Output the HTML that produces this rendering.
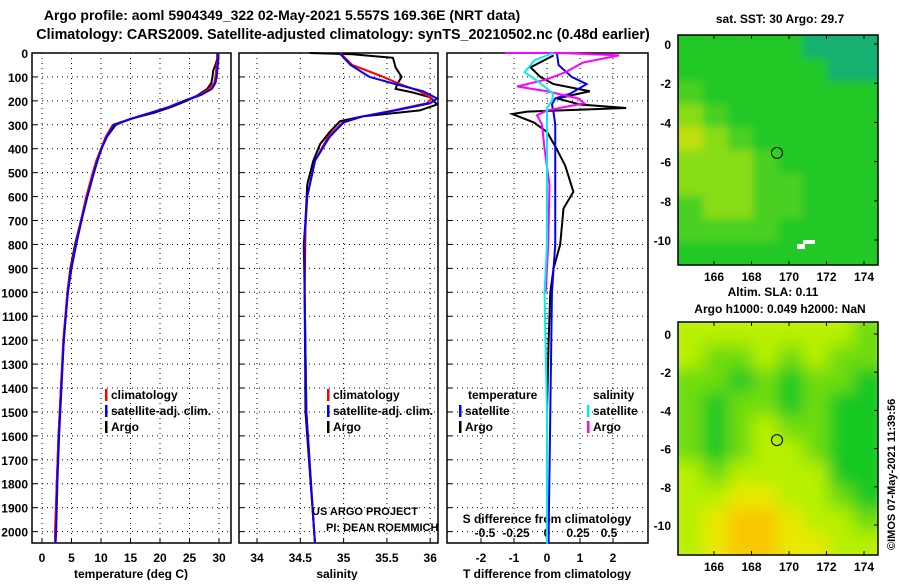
<!DOCTYPE html>
<html><head><meta charset="utf-8"><style>
body{margin:0;background:#fff}
svg text{font-family:"Liberation Sans",sans-serif;font-weight:bold;fill:#000}
</style></head><body>
<svg id="c" width="900" height="580" viewBox="0 0 900 580" xmlns="http://www.w3.org/2000/svg">
<defs>
<filter id="bl" x="0" y="0" width="1" height="1"><feGaussianBlur stdDeviation="8"/></filter>
<filter id="bl2" x="0" y="0" width="1" height="1"><feGaussianBlur stdDeviation="4"/></filter>
<clipPath id="cm1"><rect x="678" y="35" width="200" height="230"/></clipPath>
<clipPath id="cm2"><rect x="678" y="322" width="200" height="233"/></clipPath>
</defs>
<text x="282" y="20" font-size="14" text-anchor="middle">Argo profile: aoml 5904349_322 02-May-2021 5.557S 169.36E (NRT data)</text>
<text x="343" y="39" font-size="14.3" text-anchor="middle">Climatology: CARS2009. Satellite-adjusted climatology: synTS_20210502.nc (0.48d earlier)</text>
<g id="g"></g>
</svg>
<script>
// ---- data ----
const depths = [0,25,50,75,100,125,150,175,200,225,250,275,300,350,400,450,500,600,700,800,900,1000,1200,1400,1600,1800,2000,2050];
const tempArgo = [29.7,29.7,29.4,29.0,28.9,28.7,28.0,26.5,24.5,22.0,19.0,15.0,12.5,11.0,10.0,9.4,8.8,7.6,6.6,5.6,4.8,4.3,3.7,3.2,2.8,2.5,2.3,2.2];
const tempClim = [29.8,29.8,29.6,29.5,29.4,29.2,28.3,26.8,24.0,21.5,18.3,15.0,12.0,10.8,10.0,9.2,8.6,7.5,6.6,5.7,4.9,4.3,3.6,3.2,2.8,2.5,2.2,2.2];
const tempSat = [29.9,29.9,29.8,29.7,29.6,29.4,28.8,27.0,24.2,21.8,18.5,15.2,12.2,11.0,10.1,9.4,8.8,7.7,6.7,5.8,5.0,4.4,3.7,3.3,2.9,2.6,2.4,2.3];
const salDepthsArgo = [0,5,20,60,100,130,150,165,185,215,240,265,285,330,380,450,550,700,1000,1500,2000,2050];
const salArgo = [34.61,35.1,35.57,35.6,35.67,35.62,35.6,35.8,36.0,36.08,35.88,35.22,34.96,34.84,34.73,34.65,34.58,34.56,34.55,34.56,34.66,34.67];
const salDepthsClim = [0,50,100,130,160,190,210,240,265,290,350,450,600,800,1000,1500,2000,2050];
const salClim = [34.96,35.1,35.46,35.65,35.88,36.02,35.96,35.57,35.22,34.99,34.82,34.67,34.58,34.55,34.55,34.57,34.66,34.67];
const salSat = [34.95,35.08,35.3,35.6,35.92,36.08,36.0,35.6,35.22,35.0,34.84,34.67,34.58,34.54,34.55,34.57,34.66,34.67];
const dtArgoDepths = [10,60,100,130,160,190,215,230,245,255,290,330,390,470,580,650,800,900,1000,1200,1500,2000,2050];
const dtArgo = [0.2,-0.5,-0.2,0.2,1.3,0.3,1.0,2.4,-0.6,-1.05,-0.4,0,0.25,0.55,0.8,0.5,0.4,0.2,0.1,0.05,0,0,0];
const dtSatDepths = [0,50,100,130,170,190,215,250,300,500,800,1000,1500,2000,2050];
const dtSat = [0.3,0.35,0.75,1.2,0.7,0.25,0.15,0.2,0.25,0.25,0.25,0.15,0.1,0.05,0.05];
const dsArgoDepths = [0,0,10,40,80,110,140,160,190,210,240,260,300,400,550,800,1000];
const dsArgo = [-0.34,0.12,0.58,0.29,0.15,0,-0.24,0,0.25,0.3,0,-0.08,-0.04,-0.02,0.02,0.01,-0.01];
const dsSatDepths = [0,30,80,120,170,200,230,300,500,800,1000,1500,2000,2050];
const dsSat = [0.05,-0.1,-0.18,-0.07,0.05,0.04,0,0,0,0,-0.02,0,0,0];
const depthTicks = [0,100,200,300,400,500,600,700,800,900,1000,1100,1200,1300,1400,1500,1600,1700,1800,1900,2000];
const tTicks = [0,5,10,15,20,25,30];
const sTicks = [34,34.5,35,35.5,36];
const sTickLabels = ['34','34.5','35','35.5','36'];
const dTTicks = [-2,-1,0,1,2];
const dSTicks = [-0.5,-0.25,0,0.25,0.5];
const dSTickLabels = ['-0.5','-0.25','0','0.25','0.5'];
const lonTicks = [166,168,170,172,174];
const latTicks = [0,-2,-4,-6,-8,-10];
const sstGrid = [
[1,1,1,1,1,0,0,0],[1,1,1,1,1,1,0,0],[2,1,1,1,1,1,1,1],[3,2,1,1,1,1,1,1],[4,3,2,1,1,1,1,1],
[3,3,3,2,1,1,1,1],[3,3,3,2,2,1,1,1],[2,3,3,2,2,1,1,1],[2,2,2,2,1,1,1,1],[1,1,1,1,1,1,1,1]];
const slaGrid = [
[2,2,2,2,2,2,2,1],[2,1,1,2,1,2,1,1],[1,1,0,1,0,1,1,0],[1,0,1,1,0,1,0,0],[1,0,1,2,1,1,0,0],
[1,0,1,2,2,1,0,0],[2,1,2,2,2,2,0,0],[2,2,3,3,2,2,1,0],[2,3,4,4,3,2,2,1],[2,3,4,4,3,3,2,2]];
const sstColors = ['#18b070','#22c828','#48d020','#88dc18','#c0e010'];
const slaColors = ['#18c820','#70dc10','#b8f000','#e8e800','#f8c800'];

// ---- scales ----
const NS='http://www.w3.org/2000/svg';
const G=document.getElementById('g');
const yD=d=>53+d*0.2393;
const xT=t=>42+t*5.9;
const xS=s=>257+(s-34)*86.6;
const xDT=v=>547+v*33;
const xDS=v=>547+v*124;
const mx1=l=>714+(l-166)*18.75, my1=l=>44-l*19.6;
const my2=l=>334-l*19.1;
function el(t,a,p){const e=document.createElementNS(NS,t);for(const k in a)e.setAttribute(k,a[k]);(p||G).appendChild(e);return e;}
function txt(x,y,s,a){const e=el('text',Object.assign({x:x,y:y,'font-size':12},a||{}));e.textContent=s;return e;}

function panel(x0,x1,name){
  const r=el('rect',{x:x0,y:53,width:x1-x0,height:490,fill:'none',stroke:'#000','stroke-width':1.5});
  
  
  depthTicks.forEach(d=>{ if(d>0) el('line',{x1:x0,x2:x1,y1:yD(d),y2:yD(d),stroke:'#000','stroke-dasharray':'1 4'});
    el('line',{x1:x0,x2:x0+5,y1:yD(d),y2:yD(d),stroke:'#000'});});
}
function vgrid(xs,f){xs.forEach(v=>{el('line',{x1:f(v),x2:f(v),y1:53,y2:543,stroke:'#000','stroke-dasharray':'1 4'});el('line',{x1:f(v),x2:f(v),y1:538,y2:543,stroke:'#000'});});}
function line(ds,vs,fx,col,name,w){
  const p=el('polyline',{points:ds.map((d,i)=>fx(vs[i])+','+yD(d)).join(' '),fill:'none',stroke:col,'stroke-width':w||2});
  
  
}

panel(32,231,'temperature-panel'); panel(239,438,'salinity-panel'); panel(447,648,'difference-panel');
depthTicks.forEach(d=>{const t=txt(28,yD(d)+5,String(d),{'text-anchor':'end'});});
vgrid(tTicks,xT); vgrid(sTicks,xS); vgrid(dTTicks,xDT);
tTicks.forEach(v=>txt(xT(v),562,String(v),{'text-anchor':'middle'}));
sTicks.forEach((v,i)=>txt(xS(v),562,sTickLabels[i],{'text-anchor':'middle'}));
dTTicks.forEach(v=>txt(xDT(v),562,String(v),{'text-anchor':'middle'}));
dSTicks.forEach((v,i)=>txt(xDS(v),537,dSTickLabels[i],{'text-anchor':'middle'}));
txt(131,578,'temperature (deg C)',{'text-anchor':'middle'});
txt(337,578,'salinity',{'text-anchor':'middle'});
txt(547,578,'T difference from climatology',{'text-anchor':'middle'});
txt(547,523,'S difference from climatology',{'text-anchor':'middle'});

line(depths,tempArgo,xT,'#000','temp-argo-line');
line(depths,tempClim,xT,'#f00','temp-clim-line');
line(depths,tempSat,xT,'#00f','temp-sat-line');
line(salDepthsArgo,salArgo,xS,'#000','sal-argo-line');
line(salDepthsClim,salClim,xS,'#f00','sal-clim-line');
line(salDepthsClim,salSat,xS,'#00f','sal-sat-line');
line(dtArgoDepths,dtArgo,xDT,'#000','dt-argo-line');
line(dtSatDepths,dtSat,xDT,'#00f','dt-sat-line');
line(dsArgoDepths,dsArgo,xDS,'#f0f','ds-argo-line');
line(dsSatDepths,dsSat,xDS,'#0ee','ds-sat-line');

function leg(x,y,col,label){el('rect',{x:x,y:y-10,width:2.5,height:12,fill:col});txt(x+6,y,label);}
leg(105,399,'#f00','climatology');leg(105,415,'#00f','satellite-adj. clim.');leg(105,431,'#000','Argo');
leg(327,399,'#f00','climatology');leg(327,415,'#00f','satellite-adj. clim.');leg(327,431,'#000','Argo');
txt(468,399,'temperature');txt(593,399,'salinity');
leg(459,415,'#00f','satellite');leg(459,431,'#000','Argo');
leg(587,415,'#0ee','satellite');leg(587,431,'#f0f','Argo');
txt(312,515,'US ARGO PROJECT',{'font-weight':'normal','font-size':11});
txt(326,531,'PI: DEAN ROEMMICH',{'font-weight':'normal','font-size':11});

// maps
function map(grid,cols,y0,h,clip,filt,name,fy){
  const g=el('g',{'clip-path':'url(#'+clip+')'});
  
  
  const gg=el('g',{filter:'url(#'+filt+')'},g);
  const cw=200/grid[0].length, ch=h/grid.length;
  el('rect',{x:668,y:y0-10,width:220,height:h+20,fill:cols[1]},gg);
  grid.forEach((row,r)=>row.forEach((v,c)=>el('rect',{x:678+c*cw-(c==0?10:0),y:y0+r*ch-(r==0?10:0),width:cw+(c==0||c==row.length-1?10:0)+0.5,height:ch+(r==0||r==grid.length-1?10:0)+0.5,fill:cols[v]},gg)));
  el('rect',{x:678,y:y0,width:200,height:h,fill:'none',stroke:'#000','stroke-width':1.5});
  lonTicks.forEach(l=>{el('line',{x1:mx1(l),x2:mx1(l),y1:y0,y2:y0+4,stroke:'#000'});el('line',{x1:mx1(l),x2:mx1(l),y1:y0+h-4,y2:y0+h,stroke:'#000'});txt(mx1(l),y0+h+16,String(l),{'text-anchor':'middle'});});
  latTicks.forEach(l=>{el('line',{x1:874,x2:878,y1:fy(l),y2:fy(l),stroke:'#000'});txt(671,fy(l)+5,String(l),{'text-anchor':'end'});});
  const c=el('circle',{cx:mx1(169.36),cy:fy(-5.557),r:5.5,fill:'none',stroke:'#000'});
  
  
}
map(sstGrid,sstColors,35,230,'cm1','bl2','sst-map',my1);
map(slaGrid,slaColors,322,233,'cm2','bl','sla-map',my2);
el('rect',{x:797,y:244,width:8,height:5,fill:'#fff'});el('rect',{x:803,y:240,width:12,height:4,fill:'#fff'});
txt(780,23,'sat. SST: 30 Argo: 29.7',{'text-anchor':'middle'});
txt(773,296,'Altim. SLA: 0.11',{'text-anchor':'middle'});
txt(780,313,'Argo h1000: 0.049 h2000: NaN',{'text-anchor':'middle'});
txt(0,0,'©IMOS 07-May-2021 11:39:56',{'font-weight':'normal','font-size':11,transform:'translate(895,550) rotate(-90)'});
</script>
</body></html>
